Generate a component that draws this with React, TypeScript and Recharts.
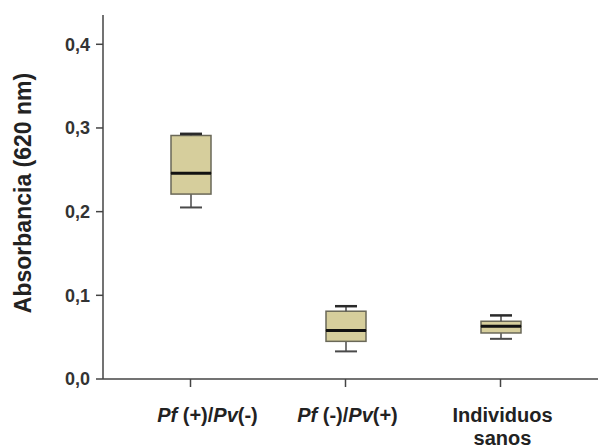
import React from 'react'
import { ComposedChart, Bar, XAxis, YAxis } from 'recharts'

const groups = ['Pf (+)/Pv(-)', 'Pf (-)/Pv(+)', 'Individuos sanos']
const mins = [0.205, 0.033, 0.048]
const q1s = [0.221, 0.045, 0.055]
const medians = [0.246, 0.058, 0.063]
const q3s = [0.291, 0.081, 0.069]
const maxs = [0.293, 0.087, 0.076]
const yTicks = [0, 0.1, 0.2, 0.3, 0.4]

const data = groups.map((g, i) => ({
  group: g,
  base: mins[i],
  lowWhisker: q1s[i] - mins[i],
  lowBox: medians[i] - q1s[i],
  highBox: q3s[i] - medians[i],
  highWhisker: maxs[i] - q3s[i],
}))

const boxFill = '#d6ce9c'
const boxStroke = '#6a6858'
const whisker = '#4a4a4a'
const capHalf = 11
const font = 'Arial, "Liberation Sans", sans-serif'
// labels sit a little right of the boxes in the original
const labelShift = [17, 2, 2]

const LowWhisker = (p: any) => {
  const cx = p.x + p.width / 2
  return (
    <g>
      <line x1={cx} x2={cx} y1={p.y} y2={p.y + p.height} stroke={whisker} strokeWidth={1.5} />
      <line x1={cx - capHalf} x2={cx + capHalf} y1={p.y + p.height} y2={p.y + p.height} stroke={whisker} strokeWidth={2} />
    </g>
  )
}

const HighWhisker = (p: any) => {
  const cx = p.x + p.width / 2
  return (
    <g>
      <line x1={cx} x2={cx} y1={p.y} y2={p.y + p.height} stroke={whisker} strokeWidth={1.5} />
      <line x1={cx - capHalf} x2={cx + capHalf} y1={p.y} y2={p.y} stroke="#2a2a2a" strokeWidth={2.5} />
    </g>
  )
}

const LowBox = (p: any) => (
  <rect x={p.x} y={p.y} width={p.width} height={p.height} fill={boxFill} stroke={boxStroke} strokeWidth={1.5} />
)

const HighBox = (p: any) => (
  <g>
    <rect x={p.x} y={p.y} width={p.width} height={p.height} fill={boxFill} stroke={boxStroke} strokeWidth={1.5} />
    <line x1={p.x} x2={p.x + p.width} y1={p.y + p.height} y2={p.y + p.height} stroke="#111" strokeWidth={3} />
  </g>
)

const GroupTick = (props: any) => {
  const { y, index } = props
  const x = props.x + labelShift[index]
  const style = { fontFamily: font, fontWeight: 700, fontSize: 20, fill: '#222' }
  if (index === 2) {
    return (
      <text x={x} y={y + 33} textAnchor="middle" style={style}>
        <tspan x={x} dy={0}>Individuos</tspan>
        <tspan x={x} dy={23}>sanos</tspan>
      </text>
    )
  }
  const signs = index === 0 ? [' (+)/', '(-)'] : [' (-)/', '(+)']
  return (
    <text x={x} y={y + 33} textAnchor="middle" style={style}>
      <tspan fontStyle="italic">Pf</tspan>
      <tspan>{signs[0]}</tspan>
      <tspan fontStyle="italic">Pv</tspan>
      <tspan>{signs[1]}</tspan>
    </text>
  )
}

export default function App() {
  return (
    <div style={{ position: 'absolute', left: 0, top: 0, background: '#fff' }}>
      <ComposedChart width={600} height={448} data={data} margin={{ top: 15, right: 2, bottom: 0, left: 0 }}>
        <XAxis
          dataKey="group"
          height={69}
          padding={{ left: 10, right: 20 }}
          tick={<GroupTick />}
          tickSize={8}
          axisLine={{ stroke: '#444', strokeWidth: 1.5 }}
          tickLine={{ stroke: '#444', strokeWidth: 1.5 }}
          interval={0}
        />
        <YAxis
          width={103}
          domain={[0, 0.435]}
          ticks={yTicks}
          allowDataOverflow
          tickFormatter={(v: number) => v.toFixed(1).replace('.', ',')}
          tick={{ fill: '#333', fontSize: 18, fontWeight: 700, fontFamily: font }}
          tickSize={7}
          tickMargin={6}
          axisLine={{ stroke: '#444', strokeWidth: 1.5 }}
          tickLine={{ stroke: '#444', strokeWidth: 1.5 }}
          label={{
            content: () => (
              <text
                x={31}
                y={193}
                transform="rotate(-90 31 193)"
                textAnchor="middle"
                style={{ fontFamily: font, fontWeight: 700, fontSize: 23, fill: '#222' }}
              >
                Absorbancia (620 nm)
              </text>
            ),
          }}
        />
        <Bar dataKey="base" stackId="b" fill="transparent" barSize={40} isAnimationActive={false} shape={() => <g />} />
        <Bar dataKey="lowWhisker" stackId="b" barSize={40} isAnimationActive={false} shape={LowWhisker} />
        <Bar dataKey="lowBox" stackId="b" barSize={40} isAnimationActive={false} shape={LowBox} />
        <Bar dataKey="highBox" stackId="b" barSize={40} isAnimationActive={false} shape={HighBox} />
        <Bar dataKey="highWhisker" stackId="b" barSize={40} isAnimationActive={false} shape={HighWhisker} />
      </ComposedChart>
    </div>
  )
}
